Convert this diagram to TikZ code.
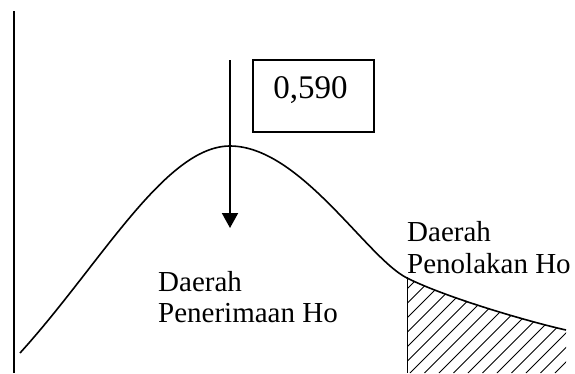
\documentclass[tikz,border=0pt]{standalone}
\usepackage{fontspec}
\setmainfont{Liberation Serif}
\usetikzlibrary{arrows.meta}
\begin{document}
\begin{tikzpicture}[x=1pt,y=-1pt,
  curveline/.style={line width=1.6pt,line join=round},
  axisline/.style={line width=2pt},
  hatchline/.style={line width=0.9pt},
  lbl/.style={inner sep=0pt,anchor=base west,font=\fontsize{29}{32}\selectfont},
  boxstyle/.style={draw,line width=1.5pt,minimum width=121pt,minimum height=72pt,inner sep=0pt}]
\useasboundingbox (0,0) rectangle (575,373);
% vertical axis
\coordinate (axtop) at (14,11);
\coordinate (axbot) at (14,373);
\draw[axisline] (axtop) -- (axbot);
% hatched region
\begin{scope}
\clip (407,373) -- (407,278) .. controls (447,298) and (530,322) .. (566,330) -- (566,373) -- cycle;
\foreach \k in {-14,...,12} {
  \draw[hatchline] (410+14.5*\k,373) -- ++(120,-120);
}
\end{scope}
\coordinate (htop) at (407,277);
\coordinate (hbot) at (407,373);
\draw[line width=1pt] (htop) -- (hbot);
% curve
\draw[curveline] (20,353) .. controls (100,265) and (165,146) .. (230,146)
  .. controls (300,146) and (367,258) .. (407,278)
  .. controls (447,298) and (530,322) .. (566,330);
% arrow
\coordinate (atop) at (230,60);
\coordinate (atip) at (230,228);
\draw[line width=2pt,-{Triangle[width=16pt,length=15pt]}] (atop) -- (atip);
% box
\node[boxstyle] (box) at (313.5,96) {};
\node[inner sep=0pt,font=\fontsize{33}{36}\selectfont] (val) at (310.5,90.5) {0,590};
% labels
\node[lbl] (l1) at (158,291) {Daerah};
\node[lbl] (l2) at (158,322) {Penerimaan Ho};
\node[lbl] (r1) at (407,241) {Daerah};
\node[lbl] (r2) at (407,273) {Penolakan Ho};
\end{tikzpicture}
\end{document}
